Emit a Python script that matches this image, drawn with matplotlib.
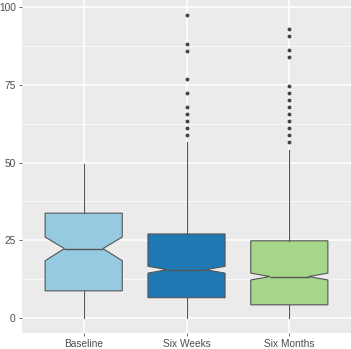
import matplotlib

matplotlib.use("Agg")
import matplotlib.pyplot as plt
from matplotlib.ticker import MultipleLocator

# box statistics (notched boxplot)
groups = ["Baseline", "Six Weeks", "Six Months"]
colors = ["#96CAE1", "#1F78B4", "#A6D68A"]
q1 = [8.7, 6.5, 4.2]
med = [22.3, 15.5, 13.3]
q3 = [33.7, 27.0, 24.8]
notch_lo = [18.4, 14.4, 12.2]
notch_hi = [26.0, 16.6, 14.4]
whisker_lo = [0.0, 0.0, 0.0]
whisker_hi = [49.6, 56.5, 54.0]
outliers = [
    [],
    [97.4, 88.3, 86.0, 76.8, 72.3, 67.8, 65.6, 63.3, 61.1, 58.7],
    [92.9, 90.7, 86.1, 83.8, 74.7, 72.4, 70.2, 67.9, 65.6, 63.3, 61.1, 58.8, 56.5],
]

plt.rcParams["font.family"] = ["Liberation Sans", "DejaVu Sans"]

fig = plt.figure(figsize=(3.51, 3.49), dpi=100)
ax = fig.add_axes([22 / 351, 16 / 349, 329 / 351, 333 / 349])
ax.set_facecolor("#EBEBEB")
for s in ax.spines.values():
    s.set_visible(False)

stats = []
for i, g in enumerate(groups):
    stats.append(
        {
            "label": g,
            "q1": q1[i],
            "med": med[i],
            "q3": q3[i],
            "cilo": notch_lo[i],
            "cihi": notch_hi[i],
            "whislo": whisker_lo[i],
            "whishi": whisker_hi[i],
            "fliers": outliers[i],
        }
    )

pos = list(range(1, len(groups) + 1))
bp = ax.bxp(
    stats,
    positions=pos,
    widths=0.75,
    shownotches=True,
    patch_artist=True,
    showcaps=False,
    boxprops=dict(edgecolor="#555555", linewidth=0.8),
    medianprops=dict(color="#555555", linewidth=1.0),
    whiskerprops=dict(color="#555555", linewidth=0.8),
    flierprops=dict(marker="o", markersize=2.8, markerfacecolor="#444444",
                    markeredgecolor="none"),
    zorder=3,
)
for patch, c in zip(bp["boxes"], colors):
    patch.set_facecolor(c)

ax.set_xlim(0.4, 3.6)
ax.set_ylim(-4.87, 102.3)
ax.yaxis.set_major_locator(MultipleLocator(25))
ax.yaxis.set_minor_locator(MultipleLocator(12.5))
ax.grid(which="major", color="white", linewidth=1.1, zorder=0)
ax.grid(which="minor", axis="y", color="white", linewidth=0.5, zorder=0)
ax.set_axisbelow(True)
ax.set_xticks(pos)
ax.set_xticklabels(groups)
ax.tick_params(axis="both", which="major", colors="#4D4D4D", labelcolor="#4D4D4D",
               labelsize=7.3, length=2.5, width=0.6, pad=2)
ax.tick_params(axis="y", which="minor", length=0)

fig.savefig("out.png", dpi=100)
